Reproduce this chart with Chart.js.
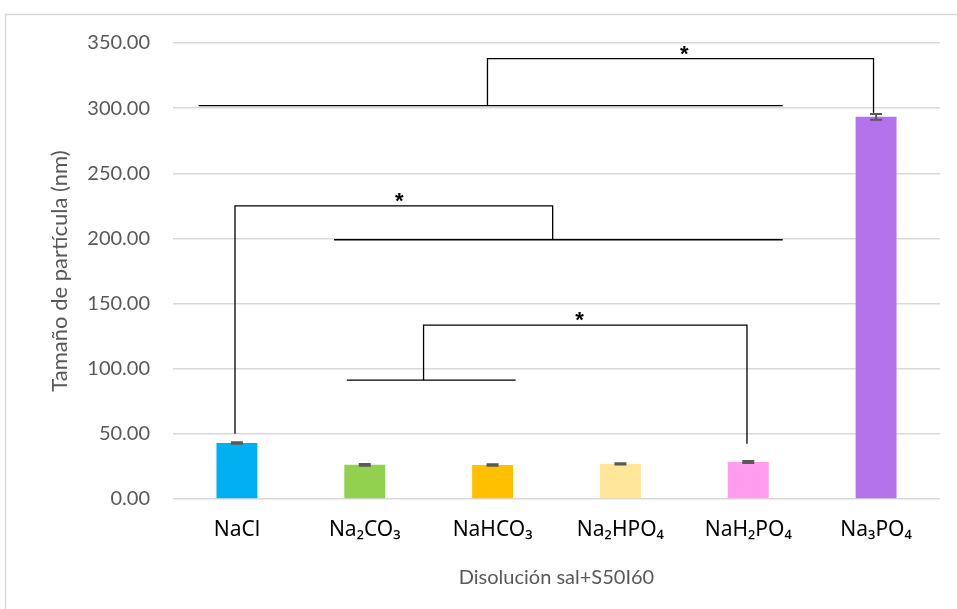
<!DOCTYPE html>
<html>
<head>
<meta charset="utf-8">
<script src="https://cdn.jsdelivr.net/npm/chart.js@4/dist/chart.umd.min.js"></script>
<style>
  html, body { margin: 0; padding: 0; background: #fff; }
  #wrap { position: relative; width: 957px; height: 609px; }
</style>
</head>
<body>
<div id="wrap"><canvas id="barChart"></canvas></div>
<script>
// Datos: tamaño de partícula por disolución salina
const salts = ['NaCl', 'Na₂CO₃', 'NaHCO₃', 'Na₂HPO₄', 'NaH₂PO₄', 'Na₃PO₄'];
const sizes = [43.0, 26.2, 26.1, 26.9, 28.4, 293.3];
const errors = [0.5, 0.6, 0.6, 0.5, 0.7, 2.3];
const colors = ['#00b0f0', '#92d050', '#ffc000', '#ffe699', '#ff9cee', '#b373ea'];
const yTicks = [0, 50, 100, 150, 200, 250, 300, 350];

// Líneas de comparación (x en índice de categoría, y en nm)
const groupLines = [
  [[-0.3, 302], [4.27, 302]],
  [[0.76, 199], [4.27, 199]],
  [[0.86, 91.3], [2.18, 91.3]]
];
const brackets = [
  [[1.96, 302], [1.96, 338], [4.98, 338], [4.98, 296.5]],
  [[-0.015, 50], [-0.015, 225], [2.47, 225], [2.47, 199]],
  [[1.46, 91.3], [1.46, 133.5], [3.99, 133.5], [3.99, 42.5]]
];
const stars = [[3.5, 344], [1.27, 231], [2.68, 140]];

const overlay = {
  id: 'overlay',
  beforeDraw(chart) {
    const c = chart.ctx;
    c.save();
    c.strokeStyle = '#d9d9d9';
    c.lineWidth = 1.5;
    c.strokeRect(5.5, 14.5, 1000, 700);
    c.restore();
  },
  afterDatasetsDraw(chart) {
    const c = chart.ctx;
    const xs = chart.scales.x, ys = chart.scales.y;
    const px = p => [xs.getPixelForValue(p[0]), ys.getPixelForValue(p[1])];
    c.save();
    // barras de error
    c.strokeStyle = '#595959';
    c.lineWidth = 2;
    sizes.forEach((v, i) => {
      const x = xs.getPixelForValue(i);
      const y1 = ys.getPixelForValue(v + errors[i]);
      const y2 = ys.getPixelForValue(v - errors[i]);
      c.beginPath();
      c.moveTo(x, y1); c.lineTo(x, y2);
      c.moveTo(x - 6, y1); c.lineTo(x + 6, y1);
      c.moveTo(x - 6, y2); c.lineTo(x + 6, y2);
      c.stroke();
    });
    // líneas y corchetes
    c.strokeStyle = '#000';
    c.lineWidth = 1.3;
    groupLines.concat(brackets).forEach(path => {
      c.beginPath();
      path.forEach((p, k) => {
        const [x, y] = px(p);
        if (k === 0) c.moveTo(x, y); else c.lineTo(x, y);
      });
      c.stroke();
    });
    // asteriscos
    c.fillStyle = '#000';
    c.font = 'bold 22px "Liberation Sans"';
    c.textAlign = 'center';
    c.textBaseline = 'middle';
    stars.forEach(s => {
      const [x, y] = px(s);
      c.fillText('*', x, y + 4);
    });
    c.restore();
  }
};

const ctx = document.getElementById('barChart').getContext('2d');
new Chart(ctx, {
  type: 'bar',
  data: {
    labels: salts,
    datasets: [{
      label: 'Tamaño de partícula (nm)',
      data: sizes,
      backgroundColor: colors,
      borderWidth: 0,
      barPercentage: 0.32,
      categoryPercentage: 1
    }]
  },
  options: {
    responsive: true,
    maintainAspectRatio: false,
    animation: false,
    layout: { padding: { top: 43, right: 17, left: 0, bottom: 0 } },
    plugins: {
      legend: { display: false },
      tooltip: { enabled: false }
    },
    scales: {
      x: {
        grid: { display: false },
        border: { display: false },
        ticks: { color: '#000', padding: 10, font: { family: 'Noto Sans', size: 21 } },
        title: {
          display: true,
          text: 'Disolución sal+S50I60',
          color: '#595959',
          font: { family: 'Lato', size: 20 },
          padding: { top: 0, bottom: 19 }
        },
        afterFit(scale) { scale.height = 110; }
      },
      y: {
        min: 0,
        max: 350,
        afterBuildTicks(scale) { scale.ticks = yTicks.map(v => ({ value: v })); },
        grid: { color: '#d9d9d9', lineWidth: 1.5, drawTicks: false },
        border: { display: false },
        ticks: {
          color: '#595959',
          padding: 23,
          font: { family: 'Lato', size: 20 },
          callback: v => v.toFixed(2)
        },
        title: {
          display: true,
          text: 'Tamaño de partícula (nm)',
          color: '#595959',
          font: { family: 'Lato', size: 22 },
          padding: { top: 47, bottom: 0 }
        },
        afterFit(scale) { scale.width = 173; }
      }
    }
  },
  plugins: [overlay]
});
</script>
</body>
</html>
